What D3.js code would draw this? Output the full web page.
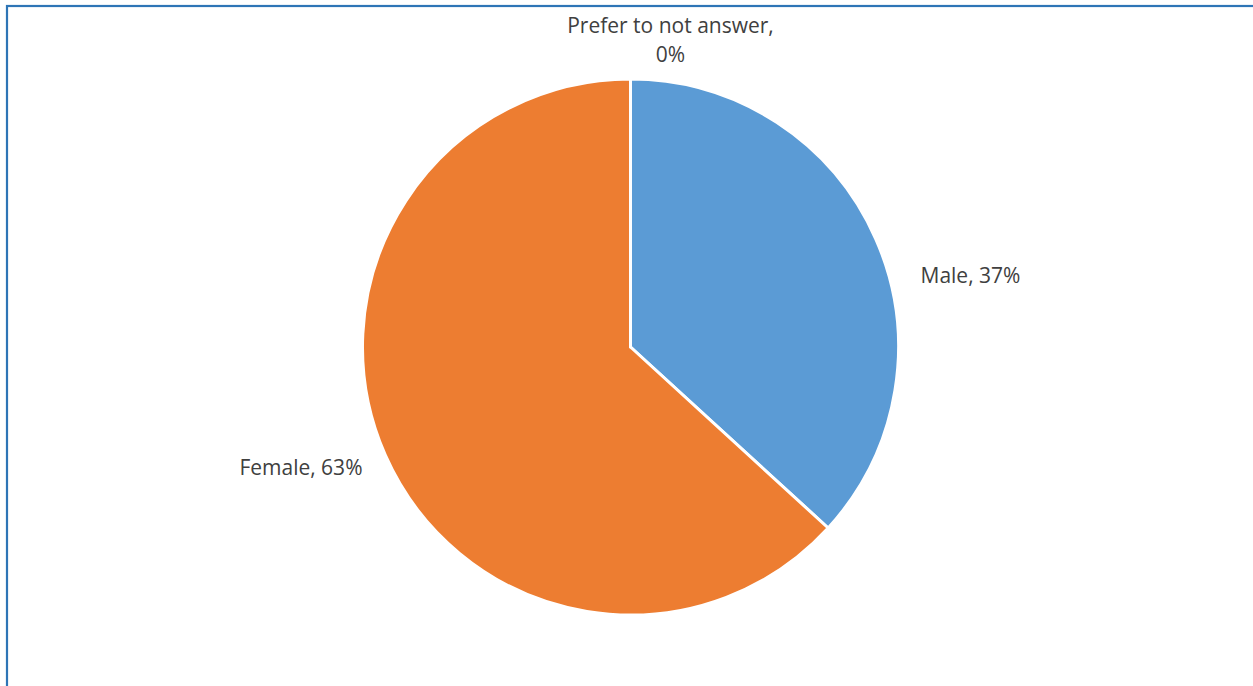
<!DOCTYPE html>
<html><head><meta charset="utf-8">
<script src="https://cdn.jsdelivr.net/npm/d3@7"></script>
<style>html,body{margin:0;padding:0;background:#fff;}svg{display:block;}</style>
</head><body>
<svg id="c" width="1253" height="686"></svg>
<script>
const categories = ["Male", "Female", "Prefer to not answer"];
const values = [36.8, 63.2, 0];
const percentLabels = ["37%", "63%", "0%"];
const colors = ["#5B9BD5", "#ED7D31", "#A5A5A5"];

const W = 1253, H = 686;
const cx = 630.5, cy = 347, R = 268;
const svg = d3.select("#c");

svg.append("rect").attr("x", 7).attr("y", 6).attr("width", W + 10).attr("height", H + 10)
  .attr("fill", "#fff").attr("stroke", "#2E75B6").attr("stroke-width", 2.2);

const data = categories.map((c, i) => ({cat: c, v: values[i], lab: percentLabels[i], col: colors[i]}));
const pie = d3.pie().value(d => d.v).sort(null);
const arc = d3.arc().innerRadius(0).outerRadius(R);
const arcs = pie(data);

const g = svg.append("g").attr("transform", `translate(${cx},${cy})`);
g.selectAll("path").data(arcs).join("path")
  .attr("d", arc).attr("fill", d => d.data.col)
  .attr("stroke", "#fff").attr("stroke-width", 3).attr("stroke-linejoin", "round");

// label placement (offsets relative to pie center)
const labelLayout = [
  {dx: 290, dy: -71, anchor: "start", lines: d => [d.cat + ", " + d.lab]},
  {dx: -268, dy: 121, anchor: "end", lines: d => [d.cat + ", " + d.lab]},
  {dx: 40, dy: -321, anchor: "middle", lines: d => [d.cat + ",", d.lab]}
];
const font = "'Open Sans', sans-serif";
arcs.forEach((a, i) => {
  const L = labelLayout[i];
  const lines = L.lines(a.data);
  const t = g.append("text").attr("text-anchor", L.anchor)
    .attr("font-family", font).attr("font-size", 21).attr("fill", "#404040");
  lines.forEach((s, j) => {
    t.append("tspan").attr("x", L.dx).attr("y", L.dy + j * 29).attr("dy", "0.35em").text(s);
  });
});
</script>
</body></html>
